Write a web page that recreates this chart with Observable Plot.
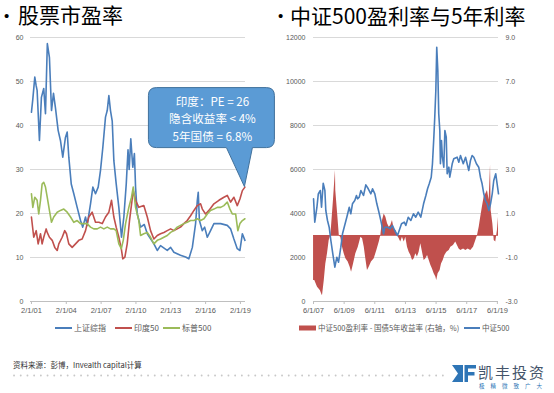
<!DOCTYPE html>
<html><head><meta charset="utf-8">
<script src="https://cdn.jsdelivr.net/npm/d3@7"></script>
<script src="https://cdn.jsdelivr.net/npm/@observablehq/plot@0.6"></script>
<style>
body{margin:0;background:#fff;}
#page{position:relative;width:554px;height:393px;overflow:hidden;font-family:"Noto Sans CJK SC","Noto Sans",sans-serif;}
.abs{position:absolute;white-space:nowrap;}
</style></head>
<body><div id="page"></div>
<script>
// ---------- Left panel data: P/E ratios (decimal year, PE) ----------
const shanghai = [[2001.08,43],[2001.2,46],[2001.37,51],[2001.49,49],[2001.57,48],[2001.77,36.6],[2001.94,46.4],[2002.14,48.4],[2002.29,42.7],[2002.45,58.6],[2002.63,55.5],[2002.81,43.4],[2002.98,47.3],[2003.15,44],[2003.38,38.9],[2003.58,36.6],[2003.78,32.8],[2004.01,37.3],[2004.16,38.5],[2004.3,32.8],[2004.51,26.7],[2004.73,24.5],[2005.02,21.4],[2005.31,18.4],[2005.5,16.9],[2005.74,19.2],[2005.88,17.3],[2006.17,22.2],[2006.37,26],[2006.6,24.5],[2006.83,26],[2007.03,29.8],[2007.23,35],[2007.46,41.9],[2007.61,43.4],[2007.75,46.8],[2007.89,43.4],[2008.04,41],[2008.18,32],[2008.38,26.8],[2008.61,21.4],[2008.84,14.6],[2009.04,19.2],[2009.25,26.8],[2009.4,34.5],[2009.5,30],[2009.64,37],[2009.81,30.5],[2009.95,33.6],[2010.05,26],[2010.19,20],[2010.48,16.9],[2010.8,17.5],[2011.06,15.4],[2011.63,13.1],[2011.92,11.6],[2012.2,12.7],[2012.78,11.6],[2013.07,12.3],[2013.35,11.2],[2013.92,10.5],[2014.36,10.1],[2014.64,9.7],[2014.94,12.3],[2015.22,17.7],[2015.37,23],[2015.45,24.8],[2015.55,18.4],[2015.8,16.1],[2016.0,16.9],[2016.23,14.6],[2016.51,16.1],[2016.8,17.7],[2017.38,17.7],[2017.95,17.3],[2018.24,16.5],[2018.52,14.2],[2018.81,12],[2019.04,11.6],[2019.25,15.4],[2019.47,13.9]];
const nifty50 = [[2001.08,19.2],[2001.28,14.6],[2001.49,16.1],[2001.66,13.1],[2001.86,15.4],[2002.0,13.1],[2002.14,14.6],[2002.35,16.5],[2002.44,15.7],[2002.63,14.6],[2002.87,13.9],[2003.09,12.3],[2003.3,11.6],[2003.44,13.1],[2003.73,14.6],[2003.95,16.1],[2004.1,15.4],[2004.3,13.1],[2004.59,12.3],[2004.88,13.1],[2005.16,13.9],[2005.45,14.2],[2005.74,16.1],[2006.02,19.2],[2006.31,20.3],[2006.6,18],[2006.89,18],[2007.18,17.7],[2007.46,19.2],[2007.75,20.3],[2007.98,23],[2008.18,19.2],[2008.38,16.9],[2008.61,14.6],[2008.82,12],[2008.95,9.7],[2009.13,10.1],[2009.33,13.1],[2009.53,18.4],[2009.7,22],[2009.85,25.2],[2010.05,23],[2010.33,21.4],[2010.76,21.8],[2011.06,19.2],[2011.34,16.1],[2011.63,14.2],[2011.92,15],[2012.2,15.4],[2012.49,15.7],[2012.78,16.1],[2013.07,16.5],[2013.35,16.1],[2013.64,16.5],[2013.92,16.9],[2014.21,17.7],[2014.5,18.4],[2014.79,19.5],[2015.08,20.7],[2015.37,21.8],[2015.65,22.2],[2015.8,21],[2016.08,19.9],[2016.37,20.7],[2016.8,22.2],[2017.23,23],[2017.66,23.7],[2017.95,24.1],[2018.24,22.6],[2018.52,23.7],[2018.81,21.8],[2019.04,23.3],[2019.25,25.2],[2019.47,26]];
const sp500 = [[2001.08,24.5],[2001.2,21.4],[2001.37,23.7],[2001.57,23],[2001.71,19.9],[2001.86,23],[2002.0,26.7],[2002.14,27.1],[2002.29,26],[2002.44,23.7],[2002.63,20.7],[2002.81,18],[2003.0,19.2],[2003.3,20.3],[2003.58,20.7],[2003.87,21],[2004.16,20.3],[2004.45,19.2],[2004.73,18],[2005.02,18.4],[2005.31,17.7],[2005.59,17.7],[2005.88,17.7],[2006.17,16.9],[2006.45,16.5],[2006.75,16.5],[2007.03,16.9],[2007.32,16.5],[2007.61,16.9],[2007.89,16.5],[2008.18,16.5],[2008.38,16.1],[2008.61,13.1],[2008.82,12],[2008.99,13.9],[2009.19,17.7],[2009.47,21.4],[2009.7,23.7],[2009.85,26],[2010.05,21.4],[2010.33,18.4],[2010.48,15],[2010.76,15.4],[2011.06,15.7],[2011.34,14.6],[2011.63,13.1],[2011.92,13.9],[2012.2,14.2],[2012.49,14.6],[2012.78,15],[2013.07,15.7],[2013.35,16.1],[2013.64,16.9],[2013.92,17.3],[2014.21,17.7],[2014.5,18],[2014.79,18.4],[2015.08,18.4],[2015.37,18.8],[2015.65,18.4],[2015.94,18.8],[2016.23,19.9],[2016.51,20.7],[2016.8,21],[2017.09,21.4],[2017.38,21.4],[2017.66,21.8],[2017.95,22.6],[2018.18,21],[2018.38,19.9],[2018.67,19.9],[2018.86,16.1],[2019.04,17.7],[2019.25,18.4],[2019.47,18.8]];
const leftTicksX = [2001,2004,2007,2010,2013,2016,2019];
const leftTicksY = [0,10,20,30,40,50,60];
const leftSeries = ["上证综指","印度50","标普500"];
const calloutLines = ["印度：PE = 26","隐含收益率 < 4%","5年国债 = 6.8%"];

// ---------- Right panel data ----------
const csi500 = [[2007.42,4668],[2007.5,3605],[2007.64,4286],[2007.73,4895],[2007.86,5045],[2007.94,4286],[2008.05,5377],[2008.16,5045],[2008.22,4136],[2008.33,3682],[2008.44,3377],[2008.55,2773],[2008.66,2241],[2008.81,1559],[2008.94,2014],[2009.05,1786],[2009.2,2468],[2009.31,3077],[2009.42,3377],[2009.59,3832],[2009.75,4286],[2009.85,3986],[2009.96,4441],[2010.11,4591],[2010.22,4818],[2010.29,4668],[2010.4,4741],[2010.51,5045],[2010.68,4818],[2010.83,5304],[2010.99,5123],[2011.16,4895],[2011.27,5123],[2011.42,4895],[2011.55,4441],[2011.66,4136],[2011.81,3682],[2011.99,3077],[2012.07,3377],[2012.25,3377],[2012.42,3305],[2012.57,3455],[2012.72,3227],[2012.9,3000],[2013.01,3227],[2013.16,3532],[2013.34,3605],[2013.44,3455],[2013.6,3832],[2013.77,3682],[2013.94,3986],[2014.09,3832],[2014.25,4059],[2014.42,3832],[2014.6,4441],[2014.75,4818],[2014.86,5123],[2014.97,5350],[2015.1,5650],[2015.18,6259],[2015.27,7468],[2015.33,8377],[2015.4,9591],[2015.46,11559],[2015.53,10500],[2015.59,8532],[2015.66,7773],[2015.7,6259],[2015.77,7318],[2015.83,6559],[2015.92,6105],[2015.99,7773],[2016.08,7468],[2016.14,5805],[2016.25,6105],[2016.31,5650],[2016.47,6259],[2016.57,6486],[2016.79,6559],[2016.9,6332],[2017.01,6636],[2017.19,6259],[2017.34,6559],[2017.55,5955],[2017.66,6409],[2017.77,6636],[2017.88,6559],[2018.05,6259],[2018.2,6105],[2018.31,5650],[2018.42,5350],[2018.53,4895],[2018.64,4591],[2018.75,4441],[2018.86,4136],[2018.97,4441],[2019.08,4895],[2019.18,5500],[2019.31,5805],[2019.4,5350],[2019.49,4895]];
const spread = [[2007.42,-2.05],[2007.5,-2.05],[2007.68,-2.35],[2007.86,-2.5],[2007.99,-2.73],[2008.01,-2.7],[2008.12,-2.05],[2008.22,-1.29],[2008.33,-0.83],[2008.44,-0.23],[2008.55,0],[2008.72,1.6],[2008.85,2.95],[2008.87,2.05],[2008.99,1.0],[2009.1,0],[2009.2,-0.1],[2009.31,-0.53],[2009.42,-0.83],[2009.53,-1.06],[2009.68,-1.21],[2009.81,-1.44],[2009.9,-1.67],[2010.03,-1.29],[2010.18,-0.83],[2010.34,-0.53],[2010.51,-0.08],[2010.62,-0.15],[2010.73,-0.53],[2010.83,-1.06],[2010.94,-1.59],[2011.05,-1.44],[2011.2,-1.21],[2011.38,-1.06],[2011.55,-0.68],[2011.71,-0.3],[2011.81,0],[2011.92,0.68],[2012.03,0.98],[2012.14,0.83],[2012.25,0.53],[2012.36,0.38],[2012.46,0.45],[2012.57,0.68],[2012.68,0.3],[2012.79,0.23],[2012.9,0],[2013.01,-0.15],[2013.11,-0.3],[2013.22,-0.08],[2013.34,-0.3],[2013.44,-0.08],[2013.55,-0.53],[2013.66,-0.76],[2013.77,-0.91],[2013.88,-1.14],[2013.99,-1.06],[2014.09,-0.83],[2014.2,-0.98],[2014.31,-0.76],[2014.42,-0.38],[2014.53,-0.76],[2014.64,-1.14],[2014.75,-1.06],[2014.86,-0.91],[2014.97,-1.14],[2015.08,-1.36],[2015.18,-1.52],[2015.29,-1.74],[2015.4,-1.89],[2015.46,-2.05],[2015.55,-1.74],[2015.68,-1.59],[2015.77,-1.29],[2015.88,-1.14],[2015.99,-0.91],[2016.12,-0.76],[2016.27,-0.68],[2016.38,-0.53],[2016.55,-0.45],[2016.7,-0.3],[2016.81,-0.45],[2016.92,-0.61],[2017.03,-0.68],[2017.21,-0.61],[2017.36,-0.68],[2017.51,-0.61],[2017.68,-0.68],[2017.86,-0.53],[2018.01,-0.23],[2018.12,0],[2018.23,0.38],[2018.33,0.83],[2018.44,1.29],[2018.55,1.74],[2018.66,1.89],[2018.77,2.05],[2018.88,1.6],[2018.97,3.2],[2019.01,1.14],[2019.12,0.53],[2019.21,-0.23],[2019.31,-0.3],[2019.42,0.23],[2019.49,0.83]];
const rightTicksX = [2007,2009,2011,2013,2015,2017,2019];
const rightTicksY = [0,2000,4000,6000,8000,10000,12000];
const rightSeries = ["中证500盈利率 - 国债5年收益率 (右轴，%)","中证500"];

const BLUE = "#4a7ebb", RED = "#c0504d", GREEN = "#9bbb59", AX = "#595959";
const page = document.getElementById("page");
const rows = arr => arr.map(([t, v]) => ({t, v}));

function addText(txt, x, y, size, color, extra = "") {
  const d = document.createElement("div");
  d.className = "abs";
  d.textContent = txt;
  d.style.cssText += `left:${x}px;top:${y - size / 2}px;font-size:${size}px;line-height:${size}px;color:${color};${extra}`;
  page.appendChild(d);
  return d;
}
const fmtJune = t => `6/1/${String(Math.floor(t)).slice(2)}`;

// ---------- Left chart ----------
const leftChart = Plot.plot({
  width: 277, height: 325,
  marginTop: 37, marginBottom: 24, marginLeft: 30, marginRight: 32,
  style: {position: "absolute", left: "0px", top: "0px", background: "transparent", overflow: "visible", fontFamily: "'Liberation Sans','Noto Sans CJK SC',sans-serif"},
  x: {type: "linear", domain: [2001.0, 2019.52]},
  y: {domain: [0, 60]},
  marks: [
    Plot.gridY(leftTicksY.filter(d => d > 0), {stroke: "#d9d9d9", strokeOpacity: 1}),
    Plot.ruleY([0], {stroke: "#bfbfbf"}),
    Plot.axisY({ticks: leftTicksY, tickFormat: d => String(d), tickSize: 0, tickPadding: 7, fontSize: 7, fill: AX, label: null}),
    Plot.axisX({ticks: leftTicksX.map(y => y + 1 / 12), tickFormat: t => `2/1/${String(Math.floor(t)).slice(2)}`, tickSize: 3, tickPadding: 3, stroke: "#bfbfbf", fill: AX, fontSize: 7.5, label: null}),
    Plot.lineY(rows(shanghai), {x: "t", y: "v", stroke: BLUE, strokeWidth: 1.6}),
    Plot.lineY(rows(nifty50), {x: "t", y: "v", stroke: RED, strokeWidth: 1.6}),
    Plot.lineY(rows(sp500), {x: "t", y: "v", stroke: GREEN, strokeWidth: 1.6})
  ]
});
page.appendChild(leftChart);

// ---------- Right chart ----------
const toLeft = r => 3000 + r * 1000; // right axis (%) mapped onto left axis
const rightChart = Plot.plot({
  width: 277, height: 325,
  marginTop: 37, marginBottom: 24, marginLeft: 36, marginRight: 56,
  style: {position: "absolute", left: "277px", top: "0px", background: "transparent", overflow: "visible", fontFamily: "'Liberation Sans','Noto Sans CJK SC',sans-serif"},
  x: {type: "linear", domain: [2007 + 5 / 12, 2019.49]},
  y: {domain: [0, 12000]},
  marks: [
    Plot.gridY(rightTicksY.filter(d => d > 0), {stroke: "#d9d9d9", strokeOpacity: 1}),
    Plot.ruleY([0], {stroke: "#bfbfbf"}),
    Plot.areaY(rows(spread), {x: "t", y1: 3000, y2: d => toLeft(d.v), fill: RED, fillOpacity: 1}),
    Plot.ruleY([3000], {stroke: RED, strokeWidth: 0.8}),
    Plot.lineY(rows(csi500), {x: "t", y: "v", stroke: BLUE, strokeWidth: 1.6}),
    Plot.axisY({ticks: rightTicksY, tickFormat: d => String(d), tickSize: 0, tickPadding: 8, fontSize: 7, fill: AX, label: null}),
    Plot.axisY({anchor: "right", ticks: rightTicksY, tickFormat: d => ((d - 3000) / 1000).toFixed(1), tickSize: 0, tickPadding: 7, fontSize: 7, fill: AX, label: null}),
    Plot.axisX({ticks: rightTicksX.map(y => y + 5 / 12), tickFormat: fmtJune, tickSize: 3, tickPadding: 3, stroke: "#bfbfbf", fill: AX, fontSize: 7.5, label: null})
  ]
});
page.appendChild(rightChart);

// ---------- Titles ----------
addText("•", 4, 15, 15, "#000", "font-family:'Liberation Sans',sans-serif;");
addText("股票市盈率", 18, 14, 21, "#000");
addText("•", 278, 15, 15, "#000", "font-family:'Liberation Sans',sans-serif;");
addText("中证500盈利率与5年利率", 290, 15, 21, "#000");

// ---------- Legends ----------
const ns = "http://www.w3.org/2000/svg";
const overlay = document.createElementNS(ns, "svg");
overlay.setAttribute("width", 554); overlay.setAttribute("height", 393);
overlay.style.cssText = "position:absolute;left:0;top:0;pointer-events:none;";
page.appendChild(overlay);
function el(tag, attrs, parent = overlay) {
  const e = document.createElementNS(ns, tag);
  for (const k in attrs) e.setAttribute(k, attrs[k]);
  parent.appendChild(e);
  return e;
}
const legLeft = [[55, BLUE], [115, RED], [163, GREEN]];
leftSeries.forEach((name, i) => {
  const [x, c] = legLeft[i];
  el("line", {x1: x, x2: x + 17, y1: 328, y2: 328, stroke: c, "stroke-width": 2});
  addText(name, x + 19, 328, 8, AX);
});
el("rect", {x: 299, y: 325.5, width: 17, height: 5, fill: RED});
addText(rightSeries[0], 318, 328, 7.5, AX);
el("line", {x1: 464, x2: 480, y1: 328, y2: 328, stroke: BLUE, "stroke-width": 2});
addText(rightSeries[1], 482, 328, 7.5, AX);

// ---------- Callout anchored on last 印度50 point ----------
const last = nifty50[nifty50.length - 1];
const tipX = leftChart.scale("x").apply(last[0]);
const tipY = leftChart.scale("y").apply(last[1]);
const bx = tipX - 96, by = tipY - 99, bw = 126, bh = 60;
el("path", {d: `M${bx + 8},${by} H${bx + bw - 8} Q${bx + bw},${by} ${bx + bw},${by + 8} V${bh + by - 8} Q${bx + bw},${by + bh} ${bx + bw - 8},${by + bh} H${tipX + 8} L${tipX},${tipY} L${tipX - 18},${by + bh} H${bx + 8} Q${bx},${by + bh} ${bx},${by + bh - 8} V${by + 8} Q${bx},${by} ${bx + 8},${by} Z`, fill: "#5b9bd5", stroke: "#41719c", "stroke-width": 1});
calloutLines.forEach((s, i) => {
  const t = el("text", {x: bx + bw / 2 + 1, y: by + 13 + i * 17.5, "text-anchor": "middle", "dominant-baseline": "central", fill: "#fff", "font-size": 11.6, "font-family": "'Noto Sans CJK SC',sans-serif"});
  t.textContent = s;
});

// ---------- Footer ----------
addText("资料来源：彭博，Invealth capital计算", 13, 365, 7.5, "#333");
el("line", {x1: 14, x2: 446, y1: 375.5, y2: 375.5, stroke: "#c8c8c8", "stroke-width": 1.8, "stroke-dasharray": "0.1 6.6", "stroke-linecap": "round"});
// logo
el("path", {d: "M452,365 H463 V382 H452 L458,373.5 Z", fill: "#2e75b6"});
el("path", {d: "M464.5,365 H476 V368.5 H468 V372 H474.5 V375.5 H468 V382 H464.5 Z", fill: "#2e75b6"});
addText("凯丰投资", 478, 371.5, 15, "#44546a", "letter-spacing:2px;");
addText("极精微致广大", 479, 386.5, 5.5, "#2e75b6", "letter-spacing:6px;");
</script></body></html>
